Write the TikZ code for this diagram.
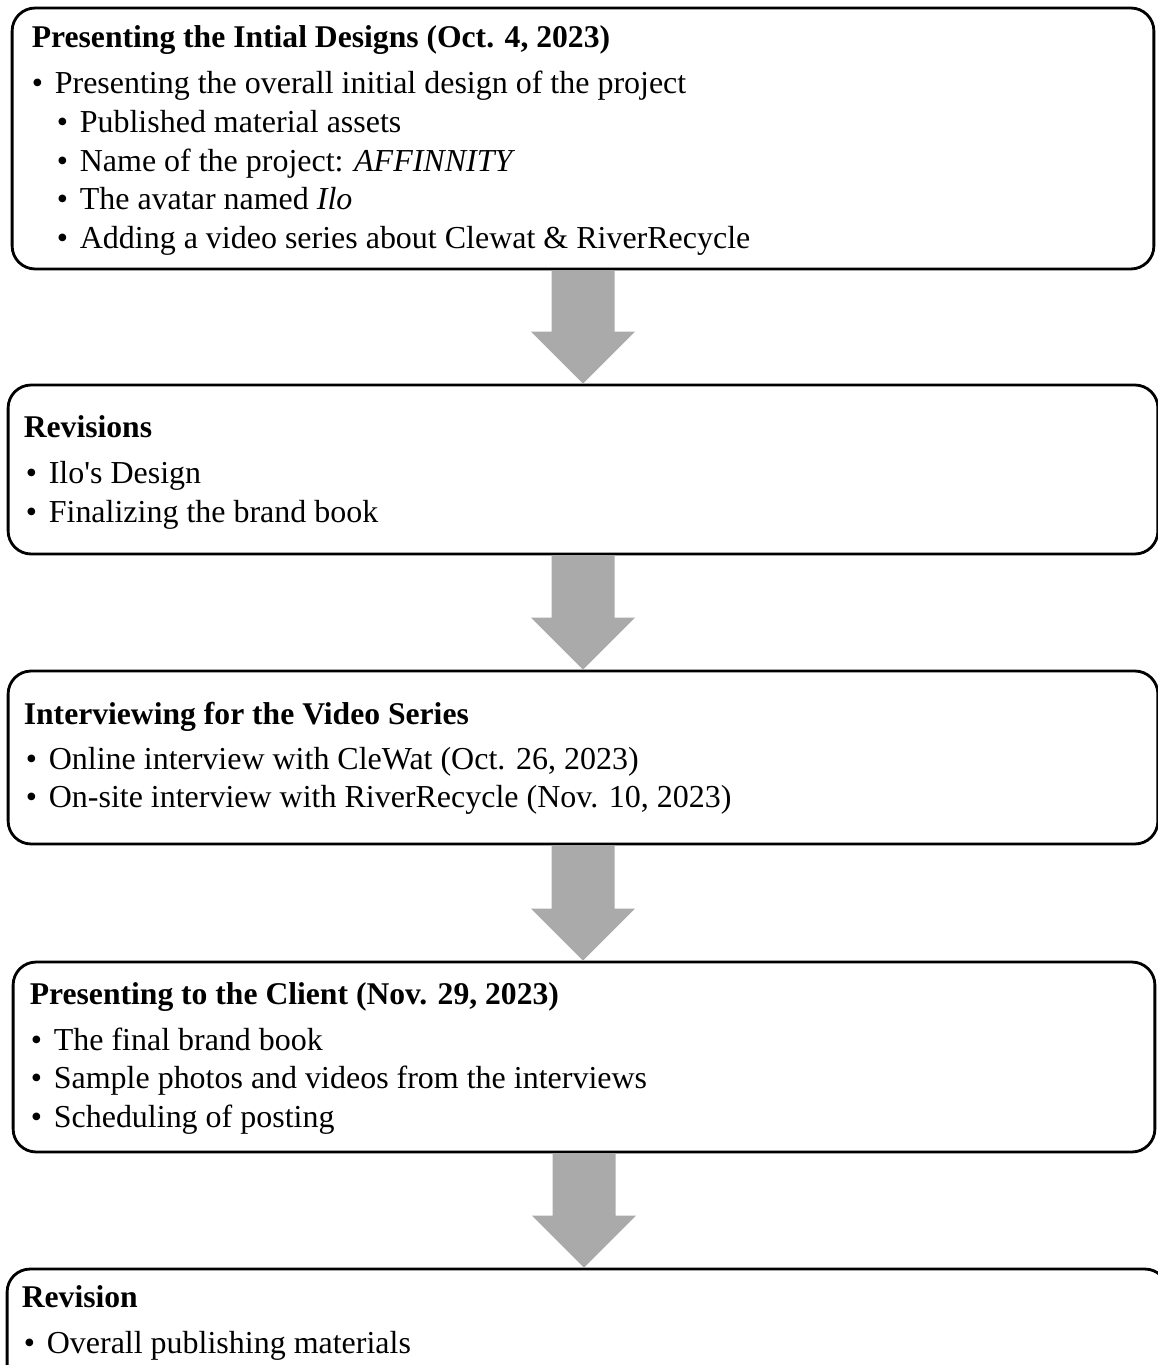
\documentclass[tikz,border=0pt]{standalone}
\usepackage{fontspec}
\setmainfont{Liberation Serif}[Ligatures=TeXOff]
\usetikzlibrary{calc}
\definecolor{arrowgray}{RGB}{170,170,170}
\tikzset{
stage node/.style={draw,line width=1.6pt,rounded corners=0.46cm,inner sep=0pt},
stage title/.style={anchor=base west,inner sep=0pt,font=\fontsize{18pt}{22pt}\selectfont\bfseries},
stage item/.style={anchor=base west,inner sep=0pt,font=\fontsize{18.2pt}{22pt}\selectfont},
flow arrow/.style={fill=arrowgray}}
\newcommand{\itembullet}{\makebox[0.46cm][l]{\textbullet}}
\newcommand{\blockarrow}[2]{%
\coordinate (#1-tip) at (#1.south |- #2.north);
\fill[flow arrow] ($(#1.south)+(-31.5,0)$) -- ($(#1-tip)+(-31.5,-52)$) -- ($(#1-tip)+(-52,-52)$)
  -- (#1-tip) -- ($(#1-tip)+(52,-52)$) -- ($(#1-tip)+(31.5,-52)$) -- ($(#1.south)+(31.5,0)$) -- cycle;}

\begin{document}
\begin{tikzpicture}[x=0.02cm,y=-0.02cm]
\useasboundingbox (0,0) rectangle (1158,1365);

% boxes
\node[stage node,minimum width=22.84cm,minimum height=5.22cm] (initial) at (583,138.5) {};
\node[stage node,minimum width=23.00cm,minimum height=3.38cm] (revisions) at (583,469.5) {};
\node[stage node,minimum width=23.00cm,minimum height=3.46cm] (interview) at (583,757.5) {};
\node[stage node,minimum width=22.84cm,minimum height=3.80cm] (client) at (584,1057) {};
\node[stage node,minimum width=23.22cm,minimum height=3.02cm] (revision) at (587.5,1344.5) {};

% arrows
\blockarrow{initial}{revisions}
\blockarrow{revisions}{interview}
\blockarrow{interview}{client}
\blockarrow{client}{revision}

% texts
\node[stage title] (initial-t) at (31.5,48) {Presenting the Intial Designs (Oct. 4, 2023)};
\node[stage item] (initial-1) at (31.5,94) {\itembullet Presenting the overall initial design of the project};
\node[stage item] (initial-2) at (56.5,133) {\itembullet Published material assets};
\node[stage item] (initial-3) at (56.5,172) {\itembullet Name of the project: \textit{AFFINNITY}};
\node[stage item] (initial-4) at (56.5,210) {\itembullet The avatar named \textit{Ilo}};
\node[stage item] (initial-5) at (56.5,248) {\itembullet Adding a video series about Clewat \& RiverRecycle};

\node[stage title] (revisions-t) at (23.5,437) {Revisions};
\node[stage item] (revisions-1) at (25.5,483) {\itembullet Ilo's Design};
\node[stage item] (revisions-2) at (25.5,522) {\itembullet Finalizing the brand book};

\node[stage title] (interview-t) at (23.5,724) {Interviewing for the Video Series};
\node[stage item] (interview-1) at (25.5,769) {\itembullet Online interview with CleWat (Oct. 26, 2023)};
\node[stage item] (interview-2) at (25.5,807) {\itembullet On-site interview with RiverRecycle (Nov. 10, 2023)};

\node[stage title] (client-t) at (29.5,1004) {Presenting to the Client (Nov. 29, 2023)};
\node[stage item] (client-1) at (30.5,1050) {\itembullet The final brand book};
\node[stage item] (client-2) at (30.5,1088) {\itembullet Sample photos and videos from the interviews};
\node[stage item] (client-3) at (30.5,1127) {\itembullet Scheduling of posting};

\node[stage title] (revision-t) at (21.5,1307) {Revision};
\node[stage item] (revision-1) at (23.5,1353) {\itembullet Overall publishing materials};

\end{tikzpicture}
\end{document}
